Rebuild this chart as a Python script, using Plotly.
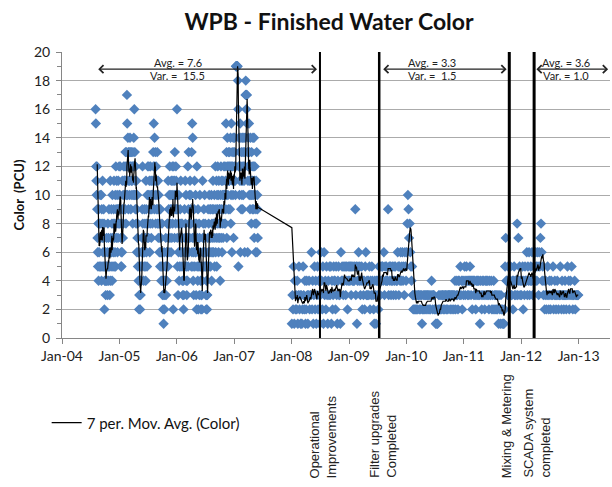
import pandas as pd
import plotly.graph_objects as go

# value code: '0'-'9' -> 0-9, 'a' -> 10 ... 'j' -> 19
CODE = "0123456789abcdefghij"

# Period 1 readings, one string per month, Aug-2004 .. May-2007
period1_start = "2004-08-01"
period1_colour = [
    "gfcbac97658496857a",  # Aug-04
    "758a4957b865978254",  # Sep-04
    "463547546385749563",  # Oct-04
    "6b4759684a75869b57",  # Nov-04
    "86a5c97b8a697b98ca",  # Dec-04
    "a8c9756586b97a8c9b",  # Jan-05
    "bac9db8cadhfcaeb9d",  # Feb-05
    "cdbaecd9cbdabc8dac",  # Mar-05
    "ecgadb9ca8b96a7856",  # Apr-05
    "462353243546579c86",  # May-05
    "6475968574b9685a7c",  # Jun-05
    "8a7c9b6a8c9b7a9b8a",  # Jul-05
    "adcfb9ecad8bc9bad8",  # Aug-05
    "9b7a89687596746584",  # Sep-05
    "352413624354735648",  # Oct-05
    "685b796a8c798a6b97",  # Nov-05
    "ac8b29cab7d9a8cb9a",  # Dec-05
    "g759386a475896b587",  # Jan-06
    "68473542356957b86a",  # Feb-06
    "453647c59d68a7b89a",  # Mar-06
    "85d6f7e546379b586a",  # Apr-06
    "6382c5749265837a56",  # May-06
    "4235324b7685976a58",  # Jun-06
    "65324323579685a769",  # Jul-06
    "7596a48796b8697a58",  # Aug-06
    "8c697b5a89c7a6b897",  # Sep-06
    "94a8c7b96a8b7a9c8a",  # Oct-06
    "ac8b9fad7cebac9dbc",  # Nov-06
    "bd9ce8afc6dbcae7db",  # Dec-06
    "cedbacjjjjjjjig5ce",  # Jan-07
    "cadbf6ce9bdace9bda",  # Feb-07
    "cebd6cehihghhfd6bc",  # Mar-07
    "ecfadb9ceab8dac9be",  # Apr-07
    "ac9e7bc8a69b8d6a97",  # May-07
]

# Period 2 readings, one string per month, Jan-2008 .. Dec-2012
period2_start = "2008-01-01"
period2_colour = [
    "13251423", "24135231", "31253241", "24313423", "36241352", "41352431",
    "36425163", "42531435", "35142354", "42531453", "31645435", "45354254",
    "54535454", "45935145", "64534524", "34256343", "43524354", "32143143",
    "42543545", "54635454", "49354534", "54354534", "46535464", "56453654",
    "68a97865", "45323232", "32323323", "23123232", "32332323", "23432332",
    "21211232", "32323323", "23323233", "32332332", "34234324", "43534243",
    "45345434", "34543424", "43432434", "34314324", "34324343", "43243342",
    "32432323", "23132132", "12112574", "43543453", "34245343", "48374534",
    "34524354", "46354634", "54634564", "65465365", "78645342", "34235324",
    "32433523", "43234323", "35324332", "34323534", "23435323", "34233333",
]

# process changes
event_dates = ["2008-06-30", "2009-07-12", "2011-10-18", "2012-03-24"]
event_labels = ["Operational<br>Improvements", "Filter upgrades<br>Completed",
                "Mixing & Metering", "SCADA system<br>completed"]

# period statistics (as printed on the chart)
stat_labels_avg = ["Avg. = 7.6", "Avg. = 3.3", "Avg. = 3.6"]
stat_labels_var = ["Var. =  15.5", "Var. =  1.5", "Var. = 1.0"]
stat_from = ["2004-08-09", "2009-07-28", "2012-03-29"]
stat_to = ["2008-06-11", "2011-10-01", "2013-07-08"]
stat_text_at = ["2006-01-07", "2010-06-13", "2012-10-12"]
stat_level = 18.8

x_tick_years = list(range(2004, 2014))
x_tick_labels = ["Jan-04", "Jan-05", "Jan-06", "Jan-07", "Jan-08",
                 "Jan-09", "Jan-10", "Jan-11", "Jan-12", "Jan-13"]


def expand(start, months):
    dates, vals = [], []
    base = pd.Timestamp(start)
    for k, s in enumerate(months):
        ms = base + pd.DateOffset(months=k)
        nd = ms.days_in_month
        for i, ch in enumerate(s):
            dates.append(ms + pd.Timedelta(days=(i + 0.5) * nd / len(s)))
            vals.append(CODE.index(ch))
    return dates, vals


d1, v1 = expand(period1_start, period1_colour)
d2, v2 = expand(period2_start, period2_colour)
dates = d1 + d2
colour = pd.Series(v1 + v2, dtype=float)
mov_avg = colour.rolling(7).mean()

fig = go.Figure()
fig.add_trace(go.Scatter(
    x=dates, y=colour, mode="markers", name="Color", showlegend=False,
    marker=dict(symbol="diamond", size=8, color="#4F81BD", line=dict(width=0)),
))
fig.add_trace(go.Scatter(
    x=dates, y=mov_avg, mode="lines", name="7 per. Mov. Avg. (Color)",
    line=dict(color="black", width=1.2),
))

line_widths = [2, 2.5, 3, 3]
for d, w in zip(event_dates, line_widths):
    fig.add_shape(type="line", xref="x", yref="y", x0=d, x1=d, y0=0, y1=20,
                  line=dict(color="black", width=w))

label_shift = [4, 4, -2, 3]
for d, t, s in zip(event_dates, event_labels, label_shift):
    fig.add_annotation(x=d, y=-0.4965, xref="x", yref="paper", text=t,
                       textangle=-90, showarrow=False, xanchor="center",
                       yanchor="bottom", align="left", xshift=s,
                       font=dict(family="Liberation Sans", size=13, color="#222"))

for a, b in zip(stat_from, stat_to):
    fig.add_annotation(x=b, y=stat_level, ax=a, ay=stat_level, xref="x", yref="y",
                       axref="x", ayref="y", text="", showarrow=True,
                       arrowhead=4, startarrowhead=4, arrowside="end+start",
                       arrowsize=1.3, startarrowsize=1.3, arrowwidth=1.2,
                       arrowcolor="#222", standoff=0, startstandoff=0)

for x, ta, tv in zip(stat_text_at, stat_labels_avg, stat_labels_var):
    fig.add_annotation(x=x, y=stat_level, xref="x", yref="y", text=ta,
                       showarrow=False, yanchor="bottom", borderpad=0, yshift=-1,
                       font=dict(family="Lato", size=11, color="#222"))
    fig.add_annotation(x=x, y=stat_level, xref="x", yref="y", text=tv,
                       showarrow=False, yanchor="top", borderpad=0, yshift=1,
                       font=dict(family="Lato", size=11, color="#222"))

fig.update_layout(
    width=612, height=487,
    margin=dict(l=62, r=2, t=52, b=149),
    plot_bgcolor="white", paper_bgcolor="white",
    font=dict(family="Lato", size=14, color="#222"),
    title=dict(text="<b>WPB - Finished Water Color</b>", x=0.5376, xref="container",
               xanchor="center", y=0.955, yanchor="middle",
               font=dict(family="Lato", size=23, color="#111")),
    showlegend=True,
    legend=dict(x=-0.028, y=-0.297, xanchor="left", yanchor="middle",
                bgcolor="rgba(0,0,0,0)", font=dict(family="Lato", size=15, color="#111")),
)

fig.update_xaxes(
    type="date", range=["2004-01-01", "2013-07-20"], automargin=False,
    tickvals=[f"{y}-01-01" for y in x_tick_years], ticktext=x_tick_labels,
    ticks="outside", ticklen=5, tickcolor="#868686",
    showline=True, linecolor="#868686", linewidth=1, showgrid=False, zeroline=False,
)
fig.update_yaxes(
    range=[0, 20], dtick=2, tick0=0, automargin=False,
    ticks="outside", ticklen=5, tickcolor="#868686", ticklabelstandoff=3,
    minor=dict(dtick=1, ticks="outside", ticklen=4, tickcolor="#868686", showgrid=False),
    showgrid=True, gridcolor="#ABABAB", gridwidth=1.2,
    showline=True, linecolor="#868686", linewidth=1, zeroline=False,
    title=dict(text="<b>Color  (PCU)</b>", font=dict(family="Lato", size=13, color="#111"),
               standoff=6),
)

fig.write_html("out.html", config={"displayModeBar": False},
               post_script="document.body.style.margin='0';")
